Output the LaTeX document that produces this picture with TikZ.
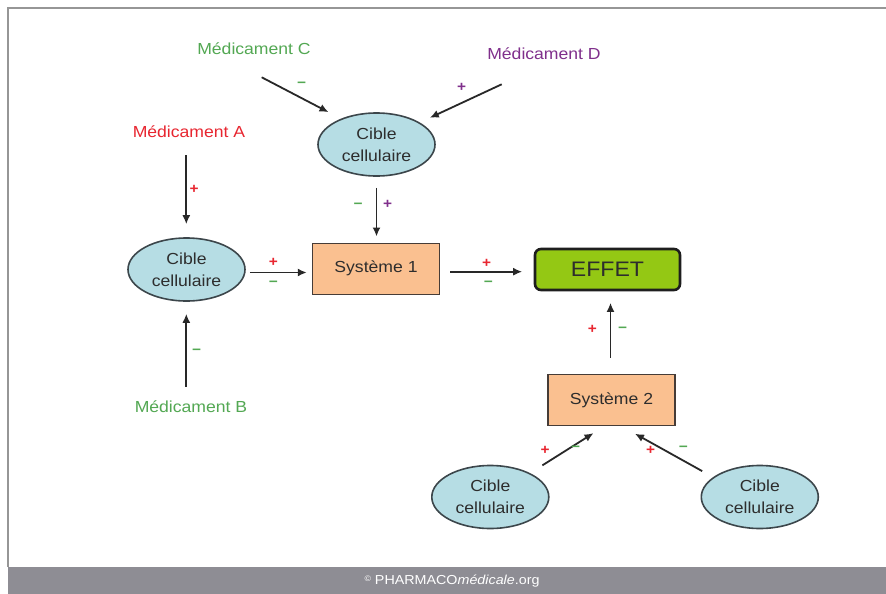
\documentclass[tikz,border=0pt]{standalone}
\usepackage{fontspec}
\setmainfont{Liberation Sans}[FakeStretch=1.1]
\usetikzlibrary{arrows.meta,shapes.geometric}
\definecolor{medgreen}{RGB}{83,168,83}
\definecolor{medpurple}{RGB}{128,48,140}
\definecolor{medred}{RGB}{232,38,48}
\definecolor{ciblefill}{RGB}{182,221,228}
\definecolor{ellborder}{RGB}{60,70,75}
\definecolor{sysfill}{RGB}{250,192,144}
\definecolor{sysborder}{RGB}{70,60,55}
\definecolor{efffill}{RGB}{148,200,20}
\definecolor{effborder}{RGB}{30,30,30}
\definecolor{txtgray}{RGB}{45,45,45}
\definecolor{arrowgray}{RGB}{40,40,40}
\definecolor{framegray}{RGB}{150,150,150}
\definecolor{footgray}{RGB}{142,141,148}
\begin{document}
\begin{tikzpicture}[x=1pt,y=-1pt,
  cible/.style={ellipse, draw=ellborder, line width=1.6pt, fill=ciblefill, minimum width=117pt, minimum height=63pt, inner sep=0pt, align=center, text=txtgray, font=\fontsize{16}{22}\selectfont},
  sysbox/.style={rectangle, draw=sysborder, line width=1.4pt, fill=sysfill, minimum width=127pt, minimum height=51pt, inner sep=0pt, text=txtgray, font=\fontsize{16}{19}\selectfont},
  effbox/.style={rectangle, rounded corners=6pt, draw=effborder, line width=2.6pt, fill=efffill, minimum width=145pt, minimum height=41pt, inner sep=0pt, text=txtgray, font=\fontsize{21}{24}\selectfont},
  med/.style={inner sep=0pt, font=\fontsize{16}{19}\selectfont},
  sign/.style={inner sep=0pt, font=\fontsize{14}{14}\selectfont\bfseries},
  conn/.style={draw=arrowgray, line width=1.8pt, -{Latex[length=9pt,width=8pt]}},
]
\useasboundingbox (0,0) rectangle (886,594);
\fill[white] (0,0) rectangle (886,594);
\fill[footgray] (8,567) rectangle (886,594);
\draw[framegray, line width=2.5pt] (8,567) -- (8,8) -- (886,8);
\node[text=white, inner sep=0pt, font=\fontsize{13}{15}\selectfont] (foot) at (452,581) {\raisebox{0.4ex}{\fontsize{8}{8}\selectfont ©} PHARMACO\textit{médicale}.org};

% labels
\node[med, text=medgreen] (medC) at (254,49) {Médicament C};
\node[med, text=medpurple] (medD) at (544,54) {Médicament D};
\node[med, text=medred] (medA) at (189,132) {Médicament A};
\node[med, text=medgreen] (medB) at (191,407) {Médicament B};

% nodes
\node[cible] (cibT) at (376.5,144.5) {Cible\\cellulaire};
\node[cible] (cibL) at (186.5,269.5) {Cible\\cellulaire};
\node[cible] (cibBL) at (490.3,497) {Cible\\cellulaire};
\node[cible] (cibBR) at (759.8,497) {Cible\\cellulaire};
\node[sysbox] (sys1) at (376,268.7) {Système 1};
\node[sysbox] (sys2) at (611.5,400) {Système 2};
\node[effbox] (effet) at (607.5,269.5) {EFFET};

% free ends
\coordinate (cS) at (261.7,77.3);
\coordinate (dS) at (501.7,84.3);
\coordinate (aS) at (186.3,155);
\coordinate (bS) at (186.3,386.7);

% connectors
\draw[conn, shorten >=14pt] (cS) -- (cibT.144);
\draw[conn, shorten >=11pt] (dS) -- (cibT.27);
\draw[conn, shorten <=11pt, shorten >=6pt] (cibT.south) -- (cibT.south |- sys1.north);
\draw[conn, shorten >=13pt] (aS) -- (aS |- cibL.north);
\draw[conn, shorten >=12pt] (bS) -- (bS |- cibL.south);
\draw[conn, shorten <=4pt, shorten >=5pt] ([yshift=-3pt]cibL.east) -- ([yshift=-3pt]cibL.east -| sys1.west);
\draw[conn, shorten <=10pt, shorten >=11.5pt] ([yshift=-3pt]sys1.east) -- ([yshift=-3pt]sys1.east -| effet.west);
\draw[conn, shorten <=16pt, shorten >=11.5pt] ([xshift=-1pt]sys2.north) -- ([xshift=-1pt]sys2.north |- effet.south);
\draw[conn, shorten <=14.5pt, shorten >=13pt] (cibBL.31) -- ([xshift=-7pt]sys2.south);
\draw[conn, shorten <=12.4pt, shorten >=15.4pt] (cibBR.157.5) -- ([xshift=10pt]sys2.south);

% signs
\node[sign, text=medgreen] (sC) at (301.7,85) {−};
\node[sign, text=medpurple] (sD) at (461.7,87.3) {+};
\node[sign, text=medgreen] (sT1) at (358,206) {−};
\node[sign, text=medpurple] (sT2) at (387.7,204.7) {+};
\node[sign, text=medred] (sA) at (194,189.3) {+};
\node[sign, text=medgreen] (sB) at (196.7,351.7) {−};
\node[sign, text=medred] (sL1) at (273.3,262.7) {+};
\node[sign, text=medgreen] (sL2) at (273.3,283.3) {−};
\node[sign, text=medred] (sS1) at (486.7,263.3) {+};
\node[sign, text=medgreen] (sS2) at (488.3,283.3) {−};
\node[sign, text=medred] (sE1) at (592.3,329.3) {+};
\node[sign, text=medgreen] (sE2) at (622.7,329.3) {−};
\node[sign, text=medred] (sBL1) at (545,450) {+};
\node[sign, text=medgreen] (sBL2) at (575.7,449) {−};
\node[sign, text=medred] (sBR1) at (650.7,450) {+};
\node[sign, text=medgreen] (sBR2) at (683.3,449) {−};
\end{tikzpicture}
\end{document}
